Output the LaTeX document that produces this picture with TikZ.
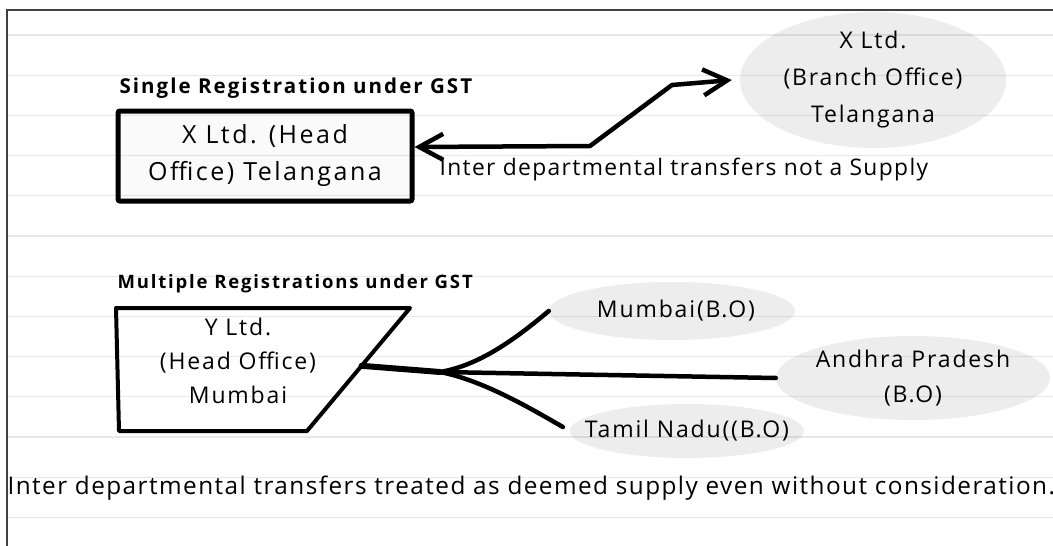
\documentclass[tikz,border=0pt]{standalone}
\usepackage{fontspec}
\setmainfont{Open Sans}[LetterSpace=8]
\newfontfamily\boxfamily{Open Sans}[LetterSpace=10]
\newfontfamily\notefamily{Open Sans}[LetterSpace=6]
\newfontfamily\headfamily{Open Sans}[LetterSpace=10]
\usetikzlibrary{shapes.geometric,arrows.meta,calc}

\newcommand{\sheetfont}{\fontsize{23}{37}\selectfont}
\newcommand{\boxfont}{\boxfamily\fontsize{25}{37}\selectfont}
\newcommand{\notefont}{\notefamily\fontsize{22.8}{26}\selectfont}
\newcommand{\headfont}{\headfamily\bfseries}

\begin{document}
\begin{tikzpicture}[x=1pt,y=-1pt,
  ruled/.style={color=black,opacity=0.09,line width=1.2pt},
  branch/.style={ellipse,fill=black!7,inner xsep=-30pt,inner ysep=-6pt,align=center,font=\sheetfont},
  link/.style={line width=4.5pt,line cap=round,line join=round},
  >={Straight Barb[length=24pt,width=26pt]}]
  \useasboundingbox (0,0) rectangle (1053,546);
  \draw[color=black!75,line width=2pt] (7,546) -- (7,10) -- (1053,10);

  % single registration
  \node[anchor=west,font=\headfont\fontsize{20.5}{24}\selectfont] at (116,88) {Single Registration under GST};
  \node[draw,line width=5pt,rounded corners=2pt,fill=black!2,align=center,font=\boxfont,
        minimum width=294pt,minimum height=90pt] (xhead) at (265,156)
        {X Ltd. (Head\\Office) Telangana};
  \node[branch,minimum width=266pt,minimum height=136pt] (xbranch) at (873,80)
        {X Ltd.\\(Branch Office)\\Telangana};
  \draw[link,<->] ([yshift=9pt]xhead.east) -- (590,146) -- (672,85)
        -- ([xshift=-8pt]xbranch.west);
  \node[anchor=west,font=\notefont] at (436,170) {Inter departmental transfers not a Supply};

  % multiple registrations
  \node[anchor=west,font=\headfont\fontsize{18.5}{22}\selectfont] at (114,284) {Multiple Registrations under GST};
  \coordinate (tl) at (116,308);
  \coordinate (tr) at (410,308);
  \coordinate (br) at (307,431);
  \coordinate (bl) at (119,431);
  \draw[line width=4pt,line join=round,fill=white] (tl) -- (tr) -- (br) -- (bl) -- cycle;
  \node[align=center,font=\fontsize{23}{34}\selectfont] (yhead) at (238,361)
        {Y Ltd.\\(Head Office)\\Mumbai};
  \coordinate (yside) at ($(tr)!0.47!(br)$);
  \coordinate (fork) at (440,372);

  \node[branch,minimum width=246pt,minimum height=58pt] (mumbai) at (672,311)
        {\ Mumbai(B.O)};
  \node[branch,minimum width=274pt,minimum height=84pt,font=\fontsize{23}{35}\selectfont]
        (andhra) at (913,378) {Andhra Pradesh\\(B.O)};
  \node[branch,minimum width=234pt,minimum height=54pt] (tamil) at (687,431)
        {Tamil Nadu((B.O)};

  \draw[link,line width=6pt] (yside) .. controls (400,369) .. (fork);
  \draw[link] (fork) .. controls (482,365) and (520,335) .. (mumbai.west);
  \draw[link] (fork) -- (andhra.west);
  \draw[link,shorten >=8pt] (fork) .. controls (482,380) and (530,408) .. (tamil.west);

  \node[anchor=west,font=\notefamily\fontsize{24.3}{28}\selectfont] at (4,488)
        {Inter departmental transfers treated as deemed supply even without consideration.};

  % ruled paper
  \foreach \k in {0,...,12}
    \draw[ruled] (8,{35+40.2*\k}) -- (1053,{35+40.2*\k});
\end{tikzpicture}
\end{document}
